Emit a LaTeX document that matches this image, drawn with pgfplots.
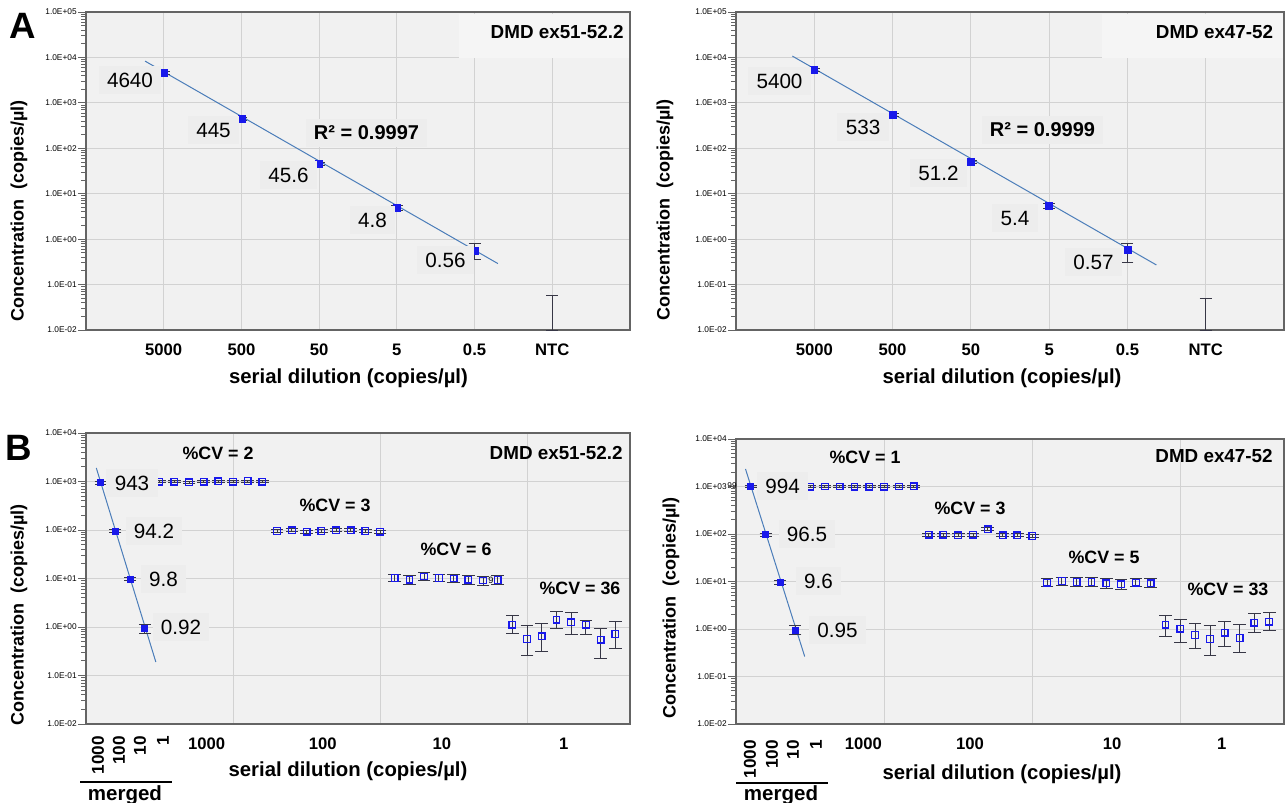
\documentclass[border=0pt]{standalone}
\usepackage{pgfplots}
\pgfplotsset{compat=1.18}
\usepackage{fontspec}
\setmainfont{Liberation Sans}

\definecolor{plotbg}{RGB}{241,241,241}
\definecolor{lblbg}{RGB}{237,237,237}
\definecolor{titlebg}{RGB}{245,245,245}
\definecolor{gridc}{RGB}{210,210,210}
\definecolor{framec}{RGB}{100,100,100}
\definecolor{ptblue}{RGB}{25,25,235}
\definecolor{linec}{RGB}{75,125,185}
\definecolor{errc}{RGB}{55,55,70}

\newcommand{\fs}[1]{\fontsize{#1}{#1}\selectfont}

\pgfplotsset{every axis/.append style={
    scale only axis,
    axis background/.style={fill=plotbg},
    xmajorgrids, ymajorgrids,
    major grid style={draw=gridc, line width=0.45pt},
    axis line style={draw=framec, line width=0.8pt},
    tick align=outside, major tick length=4.8pt,
    ytick pos=left,
    ytick style={draw=framec, line width=0.5pt},
    xtick style={draw=none},
    yticklabel style={font=\fs{5}, inner sep=0.6pt},
    xticklabel style={font=\fs{10}\bfseries}}}

\begin{document}
\begin{tikzpicture}
\path[use as bounding box] (0pt,0pt) rectangle (771.6pt,-481.8pt);

% ---------------- A left
\begin{axis}[ymode=log, at={(51.6pt,-198pt)}, anchor=south west,
  width=326.4pt, height=190.8pt,
  xmin=0, xmax=7, ymin=1e-2, ymax=1e5,
  xtick={1,...,6}, xticklabels={5000,500,50,5,0.5,NTC},
  ytick={1e-2,1e-1,1,1e1,1e2,1e3,1e4,1e5},
  yticklabels={1.0E-02,1.0E-01,1.0E+00,1.0E+01,1.0E+02,1.0E+03,1.0E+04,1.0E+05}]
\addplot[linec, line width=0.6pt] coordinates {(0.76,8300) (5.3,0.29)};
\addplot[only marks, mark=square*, mark size=2.1pt, mark options={draw=ptblue, fill=ptblue},
  error bars/.cd, y dir=both, y explicit, error bar style={errc, line width=0.5pt},
  error mark options={errc, line width=0.5pt, mark size=3.6pt, rotate=90}]
  table[x=x, y=y, y error plus=ep, y error minus=em] {
x y ep em
1 4640 350 350
2 445 30 30
3 45.6 3 3
4 4.8 0.8 0.6
5 0.56 0.24 0.2
};
\addplot[draw=none, mark=none,
  error bars/.cd, y dir=both, y explicit, error bar style={errc, line width=0.5pt},
  error mark options={errc, line width=0.5pt, mark size=3.6pt, rotate=90}]
  table[x=x, y=y, y error plus=ep, y error minus=em] {
x y ep em
6 0.01 0.048 0
};
\end{axis}

% ---------------- A right
\begin{axis}[ymode=log, at={(441.6pt,-198pt)}, anchor=south west,
  width=328.8pt, height=190.8pt,
  xmin=0, xmax=7, ymin=1e-2, ymax=1e5,
  xtick={1,...,6}, xticklabels={5000,500,50,5,0.5,NTC},
  ytick={1e-2,1e-1,1,1e1,1e2,1e3,1e4,1e5},
  yticklabels={1.0E-02,1.0E-01,1.0E+00,1.0E+01,1.0E+02,1.0E+03,1.0E+04,1.0E+05}]
\addplot[linec, line width=0.6pt] coordinates {(0.72,10700) (5.37,0.27)};
\addplot[only marks, mark=square*, mark size=2.1pt, mark options={draw=ptblue, fill=ptblue},
  error bars/.cd, y dir=both, y explicit, error bar style={errc, line width=0.5pt},
  error mark options={errc, line width=0.5pt, mark size=3.6pt, rotate=90}]
  table[x=x, y=y, y error plus=ep, y error minus=em] {
x y ep em
1 5400 400 400
2 533 40 40
3 51.2 4 4
4 5.4 0.7 0.7
5 0.57 0.25 0.27
};
\addplot[draw=none, mark=none,
  error bars/.cd, y dir=both, y explicit, error bar style={errc, line width=0.5pt},
  error mark options={errc, line width=0.5pt, mark size=3.6pt, rotate=90}]
  table[x=x, y=y, y error plus=ep, y error minus=em] {
x y ep em
6 0.01 0.04 0
};
\end{axis}

% ---------------- B left
\begin{axis}[ymode=log, at={(51.6pt,-434.4pt)}, anchor=south west,
  width=326.4pt, height=174.6pt,
  xmin=-1, xmax=36, ymin=1e-2, ymax=1e4,
  xtick={9,19,29}, xticklabels={,,},
  extra x ticks={7.2,15.1,23.2,31.5}, extra x tick labels={1000,100,10,1},
  extra x tick style={grid=none},
  ytick={1e-2,1e-1,1,1e1,1e2,1e3,1e4},
  yticklabels={1.0E-02,1.0E-01,1.0E+00,1.0E+01,1.0E+02,1.0E+03,1.0E+04}]
\addplot[linec, line width=0.6pt] coordinates {(-0.3,1905) (3.75,0.19)};
\addplot[only marks, mark=square*, mark size=1.8pt, mark options={draw=ptblue, fill=ptblue},
  error bars/.cd, y dir=both, y explicit, error bar style={errc, line width=0.5pt},
  error mark options={errc, line width=0.6pt, mark size=3.6pt, rotate=90}]
  table[x=x, y=y, y error plus=ep, y error minus=em] {
x y ep em
0 943 55 55
1 94.2 6 6
2 9.8 0.7 0.7
3 0.92 0.2 0.17
};
\addplot[only marks, mark=square, mark size=2pt, mark options={draw=ptblue, fill=plotbg, line width=0.75pt},
  error bars/.cd, y dir=both, y explicit, error bar style={errc, line width=0.5pt},
  error mark options={errc, line width=0.6pt, mark size=3.8pt, rotate=90}]
  table[x=x, y=y, y error plus=ep, y error minus=em] {
x y ep em
4 990 50 50
5 990 50 50
6 960 50 50
7 990 50 50
8 1005 50 50
9 990 50 50
10 1020 50 50
11 990 50 50
12 95 8 7
13 98 8 7
14 92 8 7
15 95 8 7
16 98 8 7
17 98 8 7
18 95 8 7
19 92 8 7
20 10.3 2.0 1.8
21 9.5 2.0 1.8
22 11.0 2.0 1.8
23 10.3 2.0 1.8
24 10.0 2.0 1.8
25 9.5 2.0 1.8
26 9.1 2.0 1.8
27 9.4 2.0 1.8
28 1.12 0.59 0.37
29 0.57 0.50 0.31
30 0.64 0.53 0.33
31 1.42 0.69 0.51
32 1.25 0.70 0.56
33 1.12 0.23 0.43
34 0.55 0.36 0.33
35 0.72 0.55 0.36
};
\end{axis}

% ---------------- B right
\begin{axis}[ymode=log, at={(441.6pt,-434.4pt)}, anchor=south west,
  width=328.8pt, height=171pt,
  xmin=-1, xmax=36, ymin=1e-2, ymax=1e4,
  xtick={9,19,29}, xticklabels={,,},
  extra x ticks={7.6,14.8,24.4,31.8}, extra x tick labels={1000,100,10,1},
  extra x tick style={grid=none},
  ytick={1e-2,1e-1,1,1e1,1e2,1e3,1e4},
  yticklabels={1.0E-02,1.0E-01,1.0E+00,1.0E+01,1.0E+02,1.0E+03,1.0E+04}]
\addplot[linec, line width=0.6pt] coordinates {(-0.36,2344) (3.64,0.263)};
\addplot[only marks, mark=square*, mark size=1.8pt, mark options={draw=ptblue, fill=ptblue},
  error bars/.cd, y dir=both, y explicit, error bar style={errc, line width=0.5pt},
  error mark options={errc, line width=0.6pt, mark size=3.6pt, rotate=90}]
  table[x=x, y=y, y error plus=ep, y error minus=em] {
x y ep em
0 994 55 55
1 96.5 6 6
2 9.6 0.8 0.8
3 0.95 0.22 0.165
};
\addplot[only marks, mark=square, mark size=2pt, mark options={draw=ptblue, fill=plotbg, line width=0.75pt},
  error bars/.cd, y dir=both, y explicit, error bar style={errc, line width=0.5pt},
  error mark options={errc, line width=0.6pt, mark size=3.8pt, rotate=90}]
  table[x=x, y=y, y error plus=ep, y error minus=em] {
x y ep em
4 995 40 40
5 1000 40 40
6 1000 40 40
7 995 40 40
8 995 40 40
9 995 40 40
10 1000 40 40
11 1010 40 40
12 97 7 7
13 97 7 7
14 94 7 7
15 97 7 7
16 125 9 9
17 94 7 7
18 94 7 7
19 91 7 7
20 9.5 2.2 1.8
21 10.2 2.2 1.8
22 9.8 2.2 1.8
23 9.8 2.2 1.8
24 9.1 2.2 1.8
25 8.7 2.2 1.8
26 9.5 2.2 1.8
27 9.2 2.2 1.8
28 1.23 0.71 0.52
29 1.02 0.60 0.50
30 0.75 0.57 0.37
31 0.61 0.55 0.335
32 0.84 0.59 0.41
33 0.65 0.58 0.33
34 1.36 0.74 0.51
35 1.43 0.84 0.51
};
\end{axis}

% ---------------- annotations (pixel coordinates)
\begin{scope}[x=0.6pt, y=-0.6pt,
  lbl/.style={fill=lblbg, inner xsep=5pt, inner ysep=4pt, font=\fs{12.4}},
  cv/.style={font=\fs{10.7}\bfseries},
  ttl/.style={anchor=east, inner sep=0pt, font=\fs{11.3}\bfseries},
  ylab/.style={rotate=90, font=\fs{10.8}\bfseries},
  xlab/.style={font=\fs{12.2}\bfseries},
  rot/.style={rotate=90, anchor=east, inner sep=0pt, font=\fs{10.3}\bfseries}]
% letters
\node[font=\fs{22}\bfseries] at (23,26) {A};
\node[font=\fs{22}\bfseries] at (19,448) {B};
% axis labels
\node[ylab] at (19,211) {Concentration\ \ (copies/µl)};
\node[ylab] at (665,210) {Concentration\ \ (copies/µl)};
\node[ylab] at (19,615) {Concentration\ \ (copies/µl)};
\node[ylab] at (671,608) {Concentration\ \ (copies/µl)};
\node[xlab] at (348.5,378) {serial dilution (copies/µl)};
\node[xlab] at (1002,378) {serial dilution (copies/µl)};
\node[xlab] at (348,771) {serial dilution (copies/µl)};
\node[xlab] at (1002,774) {serial dilution (copies/µl)};
% A left
\fill[titlebg] (459,13.5) rectangle (629,58);
\node[ttl] at (624,32) {DMD ex51-52.2};
\node[lbl] at (130,80) {4640};
\node[lbl] at (213.5,130) {445};
\node[lbl] at (288.5,175) {45.6};
\node[lbl] at (372.5,220) {4.8};
\node[lbl] at (445.5,260) {0.56};
\node[lbl, font=\fs{12}\bfseries] at (366.5,133) {R² = 0.9997};
% A right
\fill[titlebg] (1102,13.5) rectangle (1283,58);
\node[ttl] at (1273.5,32) {DMD ex47-52};
\node[lbl] at (779.5,81) {5400};
\node[lbl] at (863,127) {533};
\node[lbl] at (938.5,173) {51.2};
\node[lbl] at (1015,218) {5.4};
\node[lbl] at (1093.5,262) {0.57};
\node[lbl, font=\fs{12}\bfseries] at (1042.5,130) {R² = 0.9999};
% B left
\node[ttl] at (623,453) {DMD ex51-52.2};
\node[cv] at (218,453) {\%CV = 2};
\node[cv] at (335,505) {\%CV = 3};
\node[cv] at (456,549) {\%CV = 6};
\node[cv] at (580,588) {\%CV = 36};
\node[lbl] at (132,483) {943};
\node[lbl] at (154,531) {94.2};
\node[lbl] at (163.5,579) {9.8};
\node[lbl] at (181,627) {0.92};
\node[font=\fs{5.5}] at (491,580) {9};
\node[rot] at (98,736) {1000};
\node[rot] at (119,736) {100};
\node[rot] at (140,736) {10};
\node[rot] at (163,736) {1};
\draw[line width=1.1pt] (80,782) -- (172,782);
\node[anchor=base, inner sep=0pt, font=\fs{12.3}\bfseries] at (125,800) {merged};
% B right
\node[ttl] at (1273,456) {DMD ex47-52};
\node[cv] at (865,457) {\%CV = 1};
\node[cv] at (970,508) {\%CV = 3};
\node[cv] at (1104,557) {\%CV = 5};
\node[cv] at (1228,589) {\%CV = 33};
\node[lbl] at (782.5,486) {994};
\node[lbl] at (807,534) {96.5};
\node[lbl] at (818.5,581) {9.6};
\node[lbl] at (837.5,630) {0.95};
\node[font=\fs{5}] at (732,486) {99};
\node[rot] at (750,740) {1000};
\node[rot] at (772,740) {100};
\node[rot] at (793,740) {10};
\node[rot] at (816,740) {1};
\draw[line width=1.1pt] (736,783) -- (828,783);
\node[anchor=base, inner sep=0pt, font=\fs{12.3}\bfseries] at (781,800) {merged};
\end{scope}
\end{tikzpicture}
\end{document}
